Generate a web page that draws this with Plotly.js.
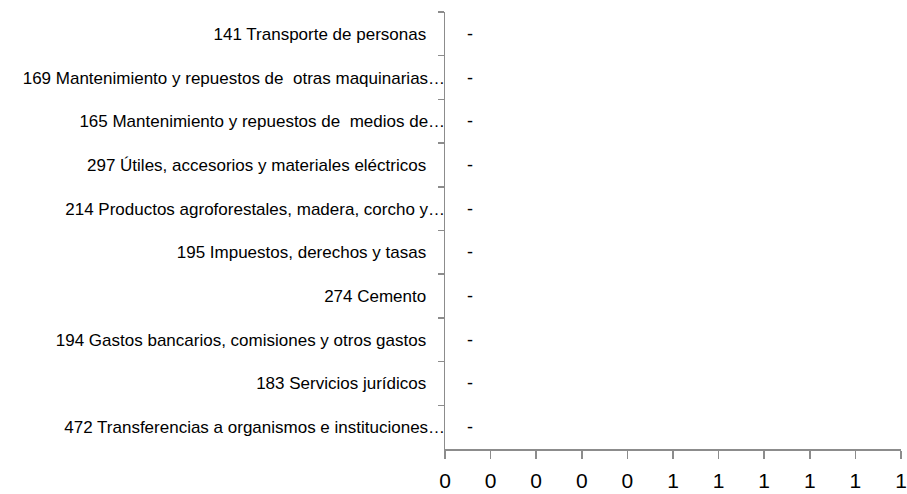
<!DOCTYPE html>
<html>
<head>
<meta charset="utf-8">
<script src="https://cdn.plot.ly/plotly-3.0.1.min.js"></script>
<style>html,body{margin:0;padding:0;background:#fff;}#chart{width:907px;height:494px;}</style>
</head>
<body>
<div id="chart"></div>
<script>
var categories = [
  "141 Transporte de personas\u00a0\u00a0\u00a0\u00a0",
  "169 Mantenimiento y repuestos de  otras maquinarias…",
  "165 Mantenimiento y repuestos de  medios de…",
  "297 Útiles, accesorios y materiales eléctricos\u00a0\u00a0\u00a0\u00a0",
  "214 Productos agroforestales, madera, corcho y…",
  "195 Impuestos, derechos y tasas\u00a0\u00a0\u00a0\u00a0",
  "274 Cemento\u00a0\u00a0\u00a0\u00a0",
  "194 Gastos bancarios, comisiones y otros gastos\u00a0\u00a0\u00a0\u00a0",
  "183 Servicios jurídicos\u00a0\u00a0\u00a0\u00a0",
  "472 Transferencias a organismos e instituciones…"
];
var values = [0, 0, 0, 0, 0, 0, 0, 0, 0, 0];
var valueLabels = ["-", "-", "-", "-", "-", "-", "-", "-", "-", "-"];
var xTickVals = [0, 0.1, 0.2, 0.3, 0.4, 0.5, 0.6, 0.7, 0.8, 0.9, 1];
var xTickText = ["0", "0", "0", "0", "0", "1", "1", "1", "1", "1", "1"];

var fontFam = "'Liberation Sans Narrow', 'Arial Narrow', 'Liberation Sans', Arial, sans-serif";

var data = [{
  type: "bar",
  orientation: "h",
  x: values,
  y: categories,
  marker: {color: "#4472c4"},
  hoverinfo: "x+y"
}];

var annotations = categories.map(function (c, i) {
  return {
    x: values[i], y: c, xref: "x", yref: "y",
    text: valueLabels[i], showarrow: false,
    xanchor: "left", xshift: 20,
    font: {family: fontFam, size: 18, color: "#000"}
  };
});

var layout = {
  width: 907, height: 494,
  margin: {l: 445, r: 6, t: 12, b: 45, pad: 0},
  paper_bgcolor: "#fff", plot_bgcolor: "#fff",
  showlegend: false,
  bargap: 0.5,
  font: {family: fontFam, size: 17, color: "#000"},
  xaxis: {
    range: [0, 1],
    tickvals: xTickVals,
    ticktext: xTickText,
    showgrid: false, zeroline: false,
    showline: true, linecolor: "#8c8c8c", linewidth: 1.5,
    ticks: "outside", ticklen: 8, tickcolor: "#8c8c8c", tickwidth: 1.5,
    ticklabelstandoff: 4,
    ticklabeloverflow: "allow",
    tickfont: {family: fontFam, size: 21, color: "#000"},
    fixedrange: true
  },
  yaxis: {
    type: "category",
    autorange: "reversed",
    showgrid: false, zeroline: false,
    showline: true, linecolor: "#8c8c8c", linewidth: 1.5,
    ticks: "outside", ticklen: 6, tickcolor: "#8c8c8c", tickwidth: 1.5,
    tickson: "boundaries",
    ticklabelstandoff: -5,
    tickfont: {family: fontFam, size: 17, color: "#000"},
    fixedrange: true
  },
  annotations: annotations
};

Plotly.newPlot("chart", data, layout, {displayModeBar: false, staticPlot: true});
</script>
</body>
</html>
